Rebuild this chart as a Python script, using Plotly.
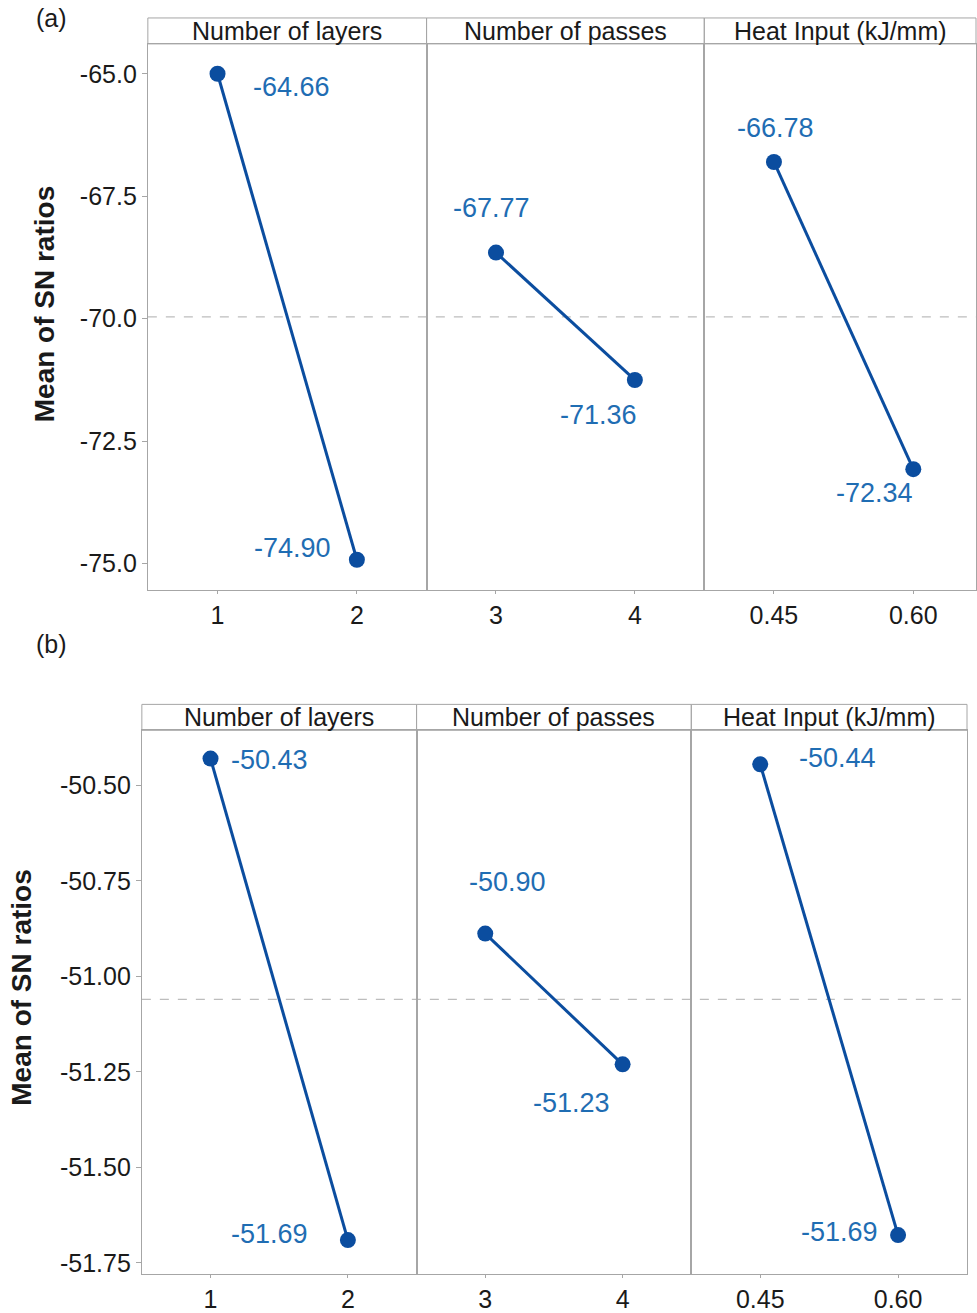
import plotly.graph_objects as go

W, H = 977, 1313

factors = ["Number of layers", "Number of passes", "Heat Input (kJ/mm)"]
levels = [["1", "2"], ["3", "4"], ["0.45", "0.60"]]

# (a) plotted means and printed labels
a_values = [[-65.00, -74.92], [-68.65, -71.25], [-66.80, -73.07]]
a_labels = [["-64.66", "-74.90"], ["-67.77", "-71.36"], ["-66.78", "-72.34"]]
a_mean = -69.96
a_ticks = [-65.0, -67.5, -70.0, -72.5, -75.0]
a_ticktext = ["-65.0", "-67.5", "-70.0", "-72.5", "-75.0"]

# (b)
b_values = [[-50.43, -51.69], [-50.888, -51.23], [-50.445, -51.677]]
b_labels = [["-50.43", "-51.69"], ["-50.90", "-51.23"], ["-50.44", "-51.69"]]
b_mean = -51.06
b_ticks = [-50.50, -50.75, -51.00, -51.25, -51.50, -51.75]
b_ticktext = ["-50.50", "-50.75", "-51.00", "-51.25", "-51.50", "-51.75"]

LINE = "#0b4d9f"
LABEL = "#1f6db3"
GRID = "#a6a6a6"
FONT = "Liberation Sans, Arial, sans-serif"

def px_x(p):
    return p / W

def px_y(p):
    return 1 - p / H

panels = {
    "a": dict(values=a_values, labels=a_labels, mean=a_mean, ticks=a_ticks, ticktext=a_ticktext,
              xedges=[148, 427, 705, 977], ranges_x=[[-0.5, 1.5], [-0.5, 1.5], [-0.5, 1.45]],
              ytop=44, ybot=591, head=18, yrange=[-75.53, -64.39],
              offsets=[[(74, 13), (-64, -12)], [(-4, -45), (-36, 35)], [(2, -34), (-39, 24)]],
              tag=(52, 18), ytitle=(44, 305)),
    "b": dict(values=b_values, labels=b_labels, mean=b_mean, ticks=b_ticks, ticktext=b_ticktext,
              xedges=[142, 417, 692, 968], ranges_x=[[-0.5, 1.5], [-0.5, 1.5], [-0.5, 1.5]],
              ytop=732, ybot=1277, head=706, yrange=[-51.779, -50.356],
              offsets=[[(59, 1), (-78, -6)], [(22, -52), (-51, 39)], [(77, -6), (-59, -3)]],
              tag=(52, 645), ytitle=(22, 990)),
}

fig = go.Figure()
layout = dict(width=W, height=H, margin=dict(l=0, r=0, t=0, b=0),
              paper_bgcolor="white", plot_bgcolor="white", showlegend=False,
              font=dict(family=FONT, color="#1a1a1a"))
shapes = []
annotations = []

idx = 0
for key, p in panels.items():
    ydom = [px_y(p["ybot"]), px_y(p["ytop"])]
    first_y = None
    for j in range(3):
        idx += 1
        xa = "x" if idx == 1 else f"x{idx}"
        ya = "y" if idx == 1 else f"y{idx}"
        xname = "xaxis" if idx == 1 else f"xaxis{idx}"
        yname = "yaxis" if idx == 1 else f"yaxis{idx}"
        if first_y is None:
            first_y = ya
        pos = list(range(len(levels[j])))
        fig.add_trace(go.Scatter(
            x=pos, y=p["values"][j], xaxis=xa, yaxis=ya,
            mode="lines+markers",
            line=dict(color=LINE, width=3),
            marker=dict(color=LINE, size=16),
            hoverinfo="skip"))
        layout[xname] = dict(
            domain=[px_x(p["xedges"][j]), px_x(p["xedges"][j + 1])],
            anchor=ya, range=p["ranges_x"][j],
            tickvals=pos, ticktext=levels[j],
            showline=True, linecolor=GRID, linewidth=1, mirror=True,
            ticks="outside", ticklen=3, tickcolor=GRID, showgrid=False, zeroline=False,
            tickfont=dict(size=25, family=FONT, color="#1a1a1a"), fixedrange=True)
        ydict = dict(
            domain=ydom, anchor=xa, range=p["yrange"],
            showline=True, linecolor=GRID, linewidth=1, mirror=True,
            showgrid=False, zeroline=False, fixedrange=True)
        if j == 0:
            ydict.update(tickvals=p["ticks"], ticktext=p["ticktext"], ticks="outside",
                         ticklen=5, tickcolor=GRID,
                         tickfont=dict(size=25, family=FONT, color="#1a1a1a"))
        else:
            ydict.update(showticklabels=False, ticks="", matches=first_y)
        layout[yname] = ydict
        # value labels
        for k in range(2):
            dx, dy = p["offsets"][j][k]
            annotations.append(dict(
                x=pos[k], y=p["values"][j][k], xref=xa, yref=ya,
                text=p["labels"][j][k], showarrow=False,
                xshift=dx, yshift=-dy,
                font=dict(size=27, family=FONT, color=LABEL)))
        # header text
        annotations.append(dict(
            x=(px_x(p["xedges"][j]) + px_x(p["xedges"][j + 1])) / 2,
            y=px_y((p["head"] + p["ytop"]) / 2), xref="paper", yref="paper",
            text=factors[j], showarrow=False, xanchor="center", yanchor="middle",
            font=dict(size=25, family=FONT, color="#1a1a1a")))
        # header box
        shapes.append(dict(type="rect", xref="paper", yref="paper",
                           x0=px_x(p["xedges"][j]), x1=px_x(p["xedges"][j + 1]),
                           y0=px_y(p["ytop"]), y1=px_y(p["head"]),
                           line=dict(color=GRID, width=1), fillcolor="rgba(0,0,0,0)"))
    # mean line
    shapes.append(dict(type="line", xref="paper", yref=first_y,
                       x0=px_x(p["xedges"][0]), x1=px_x(p["xedges"][3]),
                       y0=p["mean"], y1=p["mean"],
                       line=dict(color="#bdbdbd", width=1.3, dash="dash"), layer="below"))
    # panel tag
    annotations.append(dict(x=px_x(p["tag"][0]), y=px_y(p["tag"][1]), xref="paper", yref="paper",
                            text=f"({key})", showarrow=False, xanchor="center", yanchor="middle",
                            font=dict(size=25, family=FONT, color="#1a1a1a")))
    # y title
    annotations.append(dict(x=px_x(p["ytitle"][0]), y=px_y(p["ytitle"][1]), xref="paper", yref="paper",
                            text="<b>Mean of SN ratios</b>", showarrow=False, textangle=-90,
                            xanchor="center", yanchor="middle",
                            font=dict(size=28, family=FONT, color="#1a1a1a")))

layout["shapes"] = shapes
layout["annotations"] = annotations
fig.update_layout(**layout)
fig.write_html("out.html", config={"displayModeBar": False},
               post_script="document.body.style.margin='0';document.body.style.overflow='hidden';")
